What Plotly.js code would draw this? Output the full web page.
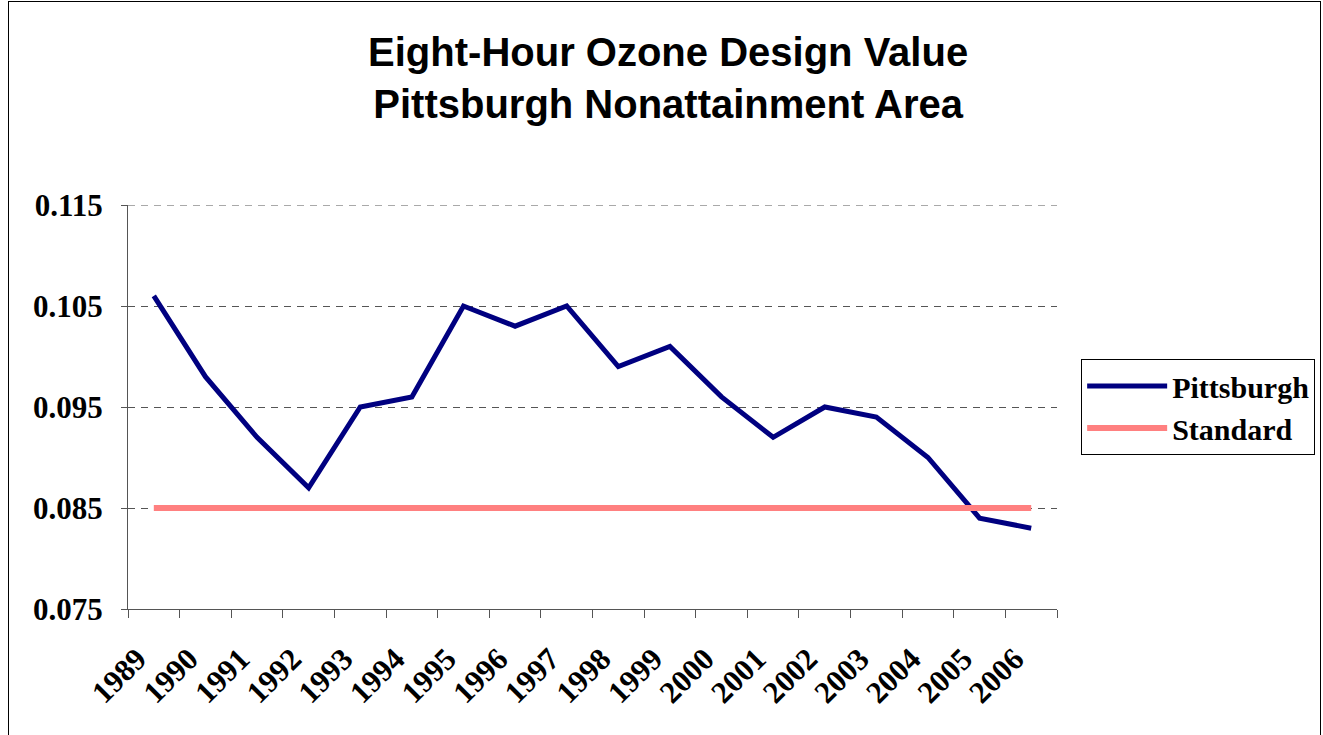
<!DOCTYPE html>
<html>
<head>
<meta charset="utf-8">
<script src="https://cdn.plot.ly/plotly-3.0.1.min.js"></script>
<style>
  html, body { margin: 0; padding: 0; background: #fff; }
  #wrap { position: relative; width: 1323px; height: 735px; overflow: hidden; }
  #chart { position: absolute; left: 0; top: 0; width: 1323px; height: 735px; }
  #frame { position: absolute; left: 8px; top: 1px; width: 1311px; height: 760px; border: 1px solid #000; pointer-events: none; }
</style>
</head>
<body>
<div id="wrap">
  <div id="chart"></div>
  <div id="frame"></div>
</div>
<script>
const years = ["1989","1990","1991","1992","1993","1994","1995","1996","1997","1998","1999","2000","2001","2002","2003","2004","2005","2006"];
const pittsburgh = [0.106,0.098,0.092,0.087,0.095,0.096,0.105,0.103,0.105,0.099,0.101,0.096,0.092,0.095,0.094,0.090,0.084,0.083];
const standard = [0.085,0.085,0.085,0.085,0.085,0.085,0.085,0.085,0.085,0.085,0.085,0.085,0.085,0.085,0.085,0.085,0.085,0.085];
const yTicks = [0.075,0.085,0.095,0.105,0.115];
const yTickText = ["0.075","0.085","0.095","0.105","0.115"];

const serif = "Liberation Serif, Times New Roman, serif";
const pad = "\u00a0\u00a0\u00a0";
const traces = [
  { x: years, y: pittsburgh, name: "Pittsburgh", type: "scatter", mode: "lines",
    line: { color: "#000080", width: 5 } },
  { x: years, y: standard, name: "Standard", type: "scatter", mode: "lines",
    line: { color: "#FF8080", width: 6 } }
];

const layout = {
  width: 1323, height: 735,
  margin: { l: 128, r: 266, t: 205, b: 126, autoexpand: false },
  paper_bgcolor: "rgba(0,0,0,0)",
  plot_bgcolor: "#fff",
  title: {
    text: "Eight-Hour Ozone Design Value<br>Pittsburgh Nonattainment Area",
    font: { family: "Liberation Sans, Arial, sans-serif", size: 40, color: "#000", weight: "bold" },
    x: 0.505, xref: "container", xanchor: "center",
    y: 0.910, yref: "container", yanchor: "middle"
  },
  xaxis: {
    type: "category",
    tickangle: -45,
    ticks: "outside", ticklen: 8, tickcolor: "#555", tickwidth: 1,
    tickson: "boundaries",
    showline: true, linecolor: "#555", linewidth: 1,
    showgrid: false, zeroline: false,
    tickfont: { family: serif, size: 31, color: "#000", weight: "bold" },
    tickvals: years,
    ticktext: years.map(y => y + pad),
    ticklabelstandoff: 2,
    automargin: false,
    range: [-0.5, 17.5]
  },
  yaxis: {
    range: [0.075, 0.115],
    tickvals: yTicks, ticktext: yTickText,
    ticks: "outside", ticklen: 6, tickcolor: "#555", tickwidth: 1,
    showline: true, linecolor: "#555", linewidth: 1,
    showgrid: true, gridcolor: "#555", griddash: "7px,6px", gridwidth: 1,
    zeroline: false,
    automargin: false,
    tickfont: { family: serif, size: 31, color: "#000", weight: "bold" },
    ticklabelstandoff: 12
  },
  shapes: [
    { type: "line", xref: "paper", x0: 0, x1: 1, yref: "y", y0: 0.115, y1: 0.115,
      line: { color: "#555", width: 1, dash: "7px,6px" }, layer: "below" }
  ],
  showlegend: true,
  legend: {
    x: 1.026, xanchor: "left", y: 0.619, yanchor: "top",
    bordercolor: "#000", borderwidth: 1, bgcolor: "#fff",
    font: { family: serif, size: 30, color: "#000", weight: "bold" },
    itemwidth: 80,
    tracegroupgap: 0
  }
};

Plotly.newPlot("chart", traces, layout, { displayModeBar: false, staticPlot: true });
</script>
</body>
</html>
